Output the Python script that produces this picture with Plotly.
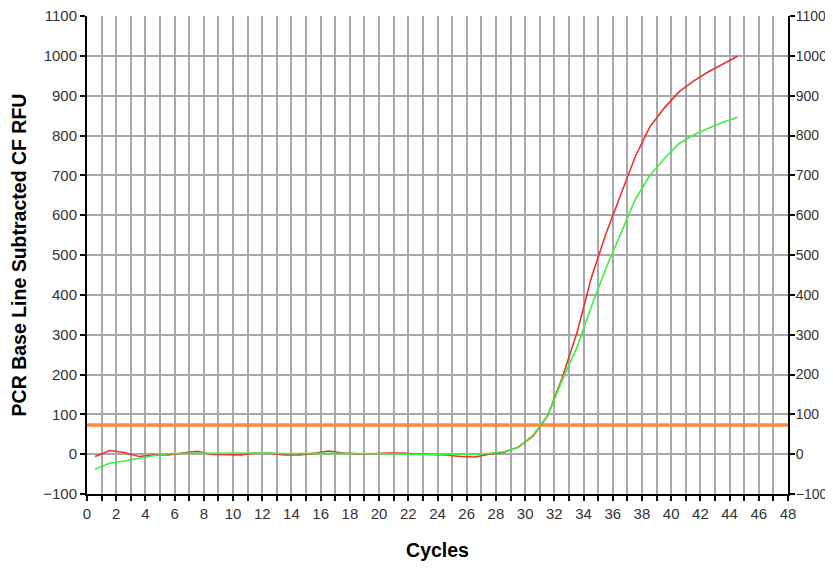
import plotly.graph_objects as go

# Data
cycles = [0.55, 1.55, 2.55, 3.55, 4.55, 5.55, 6.55, 7.55, 8.55, 9.55,
          10.55, 11.55, 12.55, 13.55, 14.55, 15.55, 16.55, 17.55, 18.55, 19.55,
          20.55, 21.55, 22.55, 23.55, 24.55, 25.55, 26.55, 27.55, 28.55, 29.55,
          30.55, 31.55, 32.55, 33.55, 34.55, 35.55, 36.55, 37.55, 38.55, 39.55,
          40.55, 41.55, 42.55, 43.55, 44.55]

red_rfu = [-6, 9, 4, -6, -2, -2, 3, 7, -1, -1,
           -2, 3, 2, -2, -2, 2, 8, 3, 1, 1,
           3, 3, 0, -1, -2, -6, -7, 0, 5, 18,
           46, 97, 193, 305, 445, 555, 650, 748, 822, 870,
           910, 937, 960, 980, 999]

green_rfu = [-38, -23, -17, -10, -4, 1, 2, 3, 2, 2,
             2, 2, 3, 1, 2, 2, 2, 2, 1, 1,
             1, 0, -1, -1, -1, -1, -1, 2, 6, 17,
             48, 97, 187, 268, 372, 468, 555, 640, 700, 743,
             780, 802, 818, 833, 846]

threshold = 73
x_range = [0, 48]
y_range = [-100, 1100]
x_ticks = list(range(0, 49, 2))
y_ticks = list(range(-100, 1101, 100))

fig = go.Figure()

fig.add_trace(go.Scatter(x=x_range, y=[threshold, threshold], mode="lines",
                         line=dict(color="#ff8a3d", width=3.5), showlegend=False,
                         hoverinfo="skip"))
fig.add_trace(go.Scatter(x=cycles, y=red_rfu, mode="lines",
                         line=dict(color="#f03030", width=1.6), showlegend=False))
fig.add_trace(go.Scatter(x=cycles, y=green_rfu, mode="lines",
                         line=dict(color="#3cf03c", width=1.6), showlegend=False))
# invisible trace on the right axis
fig.add_trace(go.Scatter(x=[None], y=[None], yaxis="y2", showlegend=False))

grid_col = "#a8a8a8"
tick_font = dict(family="Liberation Sans", size=15, color="#333333")
right_tick_font = dict(family="Liberation Sans", size=14, color="#333333")

# the page body adds an 8px margin; keep the page height within the window
fig.update_layout(
    width=825, height=555,
    margin=dict(l=79, r=45, t=8, b=69),
    paper_bgcolor="white", plot_bgcolor="white",
    xaxis=dict(range=x_range, tickvals=x_ticks, showgrid=True, gridcolor=grid_col,
               gridwidth=1.5, zeroline=False, showline=True, linecolor="black",
               linewidth=2, ticks="outside", ticklen=5, tickwidth=2, tickcolor="black",
               tickfont=tick_font, automargin=False, ticklabeloverflow="allow",
               minor=dict(dtick=1, showgrid=True, gridcolor=grid_col, gridwidth=1.5,
                          ticks="outside", ticklen=5, tickwidth=2, tickcolor="black"),
               title=dict(text="Cycles", font=dict(family="Liberation Sans", size=19.5,
                                                   color="black", weight="bold"),
                          standoff=22)),
    yaxis=dict(range=y_range, tickvals=y_ticks, showgrid=True, gridcolor=grid_col,
               gridwidth=1.5, zeroline=False, showline=True, linecolor="black",
               linewidth=2, ticks="outside", ticklen=5, tickwidth=2, tickcolor="black",
               tickfont=tick_font, automargin=False, ticklabeloverflow="allow",
               title=dict(text="PCR Base Line Subtracted CF RFU",
                          font=dict(family="Liberation Sans", size=19.5, color="black",
                                    weight="bold"),
                          standoff=12)),
    yaxis2=dict(range=y_range, tickvals=y_ticks, overlaying="y", side="right",
                showgrid=False, zeroline=False, showline=True, linecolor="black",
                linewidth=2, ticks="outside", ticklen=5, tickwidth=2, tickcolor="black",
                tickfont=right_tick_font, automargin=False, ticklabeloverflow="allow",
                ticklabelstandoff=-2),
)

fig.write_html("out.html")
